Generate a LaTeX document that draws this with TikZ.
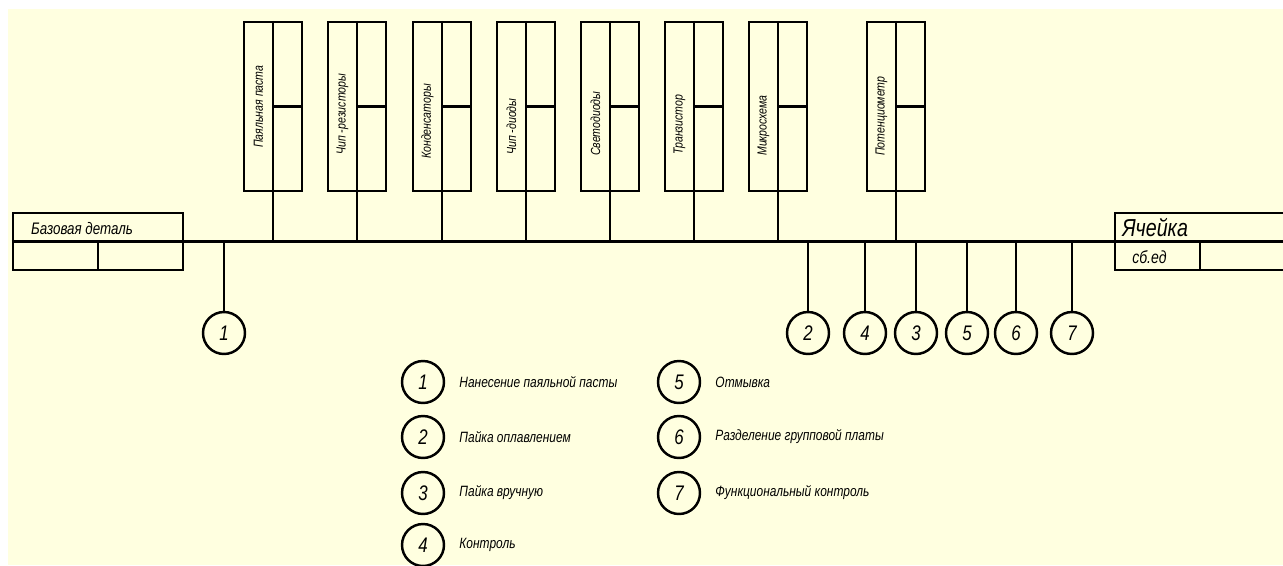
\documentclass[tikz,border=0pt]{standalone}
\usepackage{fontspec}
\newfontfamily\gost[FakeStretch=0.8]{Liberation Sans}
\usetikzlibrary{positioning}
\definecolor{paper}{RGB}{255,255,224}

\begin{document}
\begin{tikzpicture}[
  x=0.02cm,
  y=-0.02cm,
  line width=1.4pt,
  font=\gost\itshape,
  unit box/.style={
    draw,
    rectangle,
    minimum width=1.16cm,
    minimum height=3.38cm,
    inner sep=0pt
  },
  part box/.style={
    draw,
    rectangle,
    minimum width=3.4cm,
    minimum height=1.14cm,
    inner sep=0pt
  },
  op circle/.style={
    draw,
    circle,
    minimum size=0.84cm,
    inner sep=0pt,
    font=\gost\itshape\fontsize{12}{12}\selectfont
  },
  unit label/.style={
    rotate=90,
    anchor=west,
    inner sep=0pt,
    font=\gost\itshape\fontsize{7.5}{9}\selectfont
  },
  legend label/.style={
    inner sep=0pt,
    font=\gost\itshape\fontsize{8.5}{10}\selectfont
  },
]
\useasboundingbox (0,0) rectangle (1283,565);
\fill[white] (0,0) rectangle (1283,565);
\fill[paper] (8,9) rectangle (1283,565);

% base part and assembly unit
\node[part box] (base) at (98,241.5) {};
\draw (base.west) -- (base.east);
\draw (base.center) -- (base.south);
\node[anchor=west, inner sep=0pt, font=\gost\itshape\fontsize{9.5}{11}\selectfont] (basename) at (30,229) {Базовая деталь};

\node[part box] (cell) at (1200,241.5) {};
\draw (cell.west) -- (cell.east);
\draw (cell.center) -- (cell.south);
\node[anchor=west, inner sep=0pt, font=\gost\itshape\fontsize{14}{16}\selectfont] (cellname) at (1121,228) {Ячейка};
\node[anchor=west, inner sep=0pt, font=\gost\itshape\fontsize{10}{12}\selectfont] (cellcode) at (1131,257) {сб.ед};

\draw (base.east) -- (cell.west);

% components
\foreach \x/\ty/\name [count=\i] in {
  273/149/Паяльная паста,
  357/156/Чип -резисторы,
  442/160/Конденсаторы,
  526/156/Чип -диоды,
  610/157/Светодиоды,
  694/156/Транзистор,
  778/157/Микросхема,
  896/157/Потенциометр}{
  \node[unit box] (b\i) at (\x,106.5) {};
  \draw (b\i.north) -- (b\i.south);
  \draw (b\i.center) -- (b\i.east);
  \node[unit label] (t\i) at (\x-14.5,\ty) {\name};
  \draw (b\i.south) -- (b\i.south |- base.east);
}

% operations
\foreach \x/\n in {224/1, 808/2, 865/4, 916/3, 967/5, 1016/6, 1072/7}{
  \node[op circle] (s\n) at (\x,333) {\n};
  \draw (s\n.north) -- (s\n.north |- base.east);
}

% legend
\foreach \n/\x/\y/\txt in {
  1/423/382/Нанесение паяльной пасты,
  2/423/437/Пайка оплавлением,
  3/423/493/Пайка вручную,
  4/423/545/Контроль,
  5/679/382/Отмывка,
  6/679/437/Разделение групповой платы,
  7/679/493/Функциональный контроль}{
  \node[op circle] (l\n) at (\x,\y) {\n};
  \node[legend label, right=0.26cm of l\n] (d\n) {\txt};
}
\end{tikzpicture}
\end{document}
